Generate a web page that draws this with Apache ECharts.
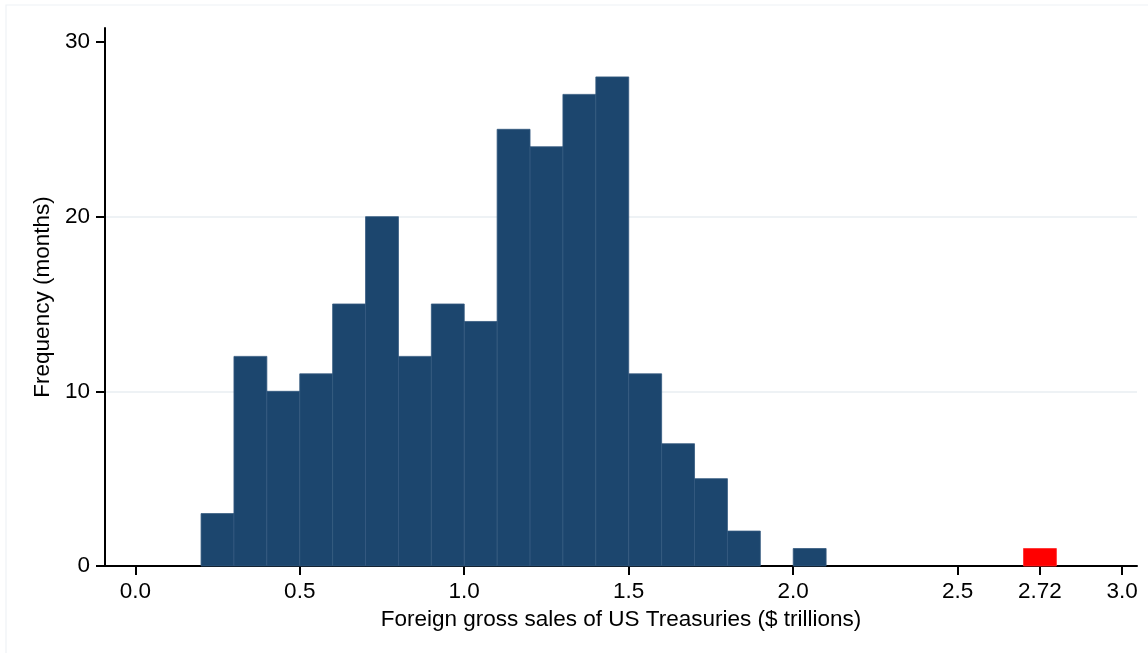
<!DOCTYPE html>
<html>
<head>
<meta charset="utf-8">
<script src="https://cdn.jsdelivr.net/npm/echarts@6/dist/echarts.min.js"></script>
<style>
html,body{margin:0;padding:0;background:#fff;}
#chart{width:1148px;height:653px;}
</style>
</head>
<body>
<div id="chart"></div>
<script>
// Histogram bins (start of each 0.1-wide bin, $ trillions) and monthly counts
const binStarts = [0.2, 0.3, 0.4, 0.5, 0.6, 0.7, 0.8, 0.9, 1.0, 1.1, 1.2, 1.3, 1.4, 1.5, 1.6, 1.7, 1.8, 1.9, 2.0];
const binCounts = [3, 12, 10, 11, 15, 20, 12, 15, 14, 25, 24, 27, 28, 11, 7, 5, 2, 0, 1];
const binWidth = 0.1;
// Highlighted bin (latest observation)
const highlightStarts = [2.7];
const highlightCounts = [1];
// Axis ticks
const xTickValues = [0.0, 0.5, 1.0, 1.5, 2.0, 2.5, 2.75, 3.0];
const xTickLabels = ['0.0', '0.5', '1.0', '1.5', '2.0', '2.5', '2.72', '3.0'];
const yTickValues = [0, 10, 20, 30];

const mainData = binStarts.map((s, i) => [s, s + binWidth, binCounts[i]]);
const highData = highlightStarts.map((s, i) => [s, s + binWidth, highlightCounts[i]]);

function renderBar(fill, stroke) {
  return function (params, api) {
    const x0 = api.value(0), x1 = api.value(1), v = api.value(2);
    if (!v) return null;
    const p0 = api.coord([x0, v]);
    const p1 = api.coord([x1, 0]);
    return {
      type: 'rect',
      shape: { x: p0[0], y: p0[1], width: p1[0] - p0[0], height: p1[1] - p0[1] },
      style: { fill: fill, stroke: stroke, lineWidth: 0.8 }
    };
  };
}

const FONT = '"Liberation Sans", Arial, Helvetica, sans-serif';
const FS = 22.5;
const chart = echarts.init(document.getElementById('chart'));
chart.setOption({
  animation: false,
  backgroundColor: '#ffffff',
  graphic: [{
    type: 'rect', silent: true, z: -10,
    shape: { x: 6, y: 5, width: 1170, height: 700 },
    style: { fill: 'none', stroke: '#eef2f5', lineWidth: 1.2 }
  }],
  grid: { left: 105, right: 11, top: 28, bottom: 87 },
  xAxis: {
    type: 'value',
    min: -0.092,
    max: 3.045,
    name: 'Foreign gross sales of US Treasuries ($ trillions)',
    nameLocation: 'middle',
    nameGap: 35,
    nameTextStyle: { fontFamily: FONT, fontSize: FS, color: '#000' },
    axisLine: { show: true, onZero: false, lineStyle: { color: '#000', width: 2 } },
    axisTick: { show: true, length: 9, customValues: xTickValues, lineStyle: { color: '#000', width: 2 } },
    axisLabel: {
      customValues: xTickValues,
      margin: 14,
      fontFamily: FONT, fontSize: FS, color: '#000',
      formatter: function (v) {
        const i = xTickValues.findIndex(t => Math.abs(t - v) < 1e-9);
        return i >= 0 ? xTickLabels[i] : '';
      }
    },
    splitLine: { show: false }
  },
  yAxis: {
    type: 'value',
    min: 0,
    max: 30.8,
    interval: 10,
    name: 'Frequency (months)',
    nameLocation: 'middle',
    nameGap: 50,
    nameTextStyle: { fontFamily: FONT, fontSize: FS, color: '#000' },
    axisLine: { show: true, onZero: false, lineStyle: { color: '#000', width: 2 } },
    axisTick: { show: true, length: 9, customValues: yTickValues, lineStyle: { color: '#000', width: 2 } },
    axisLabel: { customValues: yTickValues, margin: 15, fontFamily: FONT, fontSize: FS, color: '#000' },
    splitLine: { show: true, showMinLine: false, showMaxLine: false, lineStyle: { color: '#e8eef2', width: 1.5 } }
  },
  series: [
    {
      type: 'custom',
      renderItem: renderBar('#1c466e', '#33597f'),
      encode: { x: [0, 1], y: 2 },
      data: mainData,
      z: 3
    },
    {
      type: 'custom',
      renderItem: renderBar('#ff0000', '#ff2a2a'),
      encode: { x: [0, 1], y: 2 },
      data: highData,
      z: 3
    }
  ]
});
</script>
</body>
</html>
